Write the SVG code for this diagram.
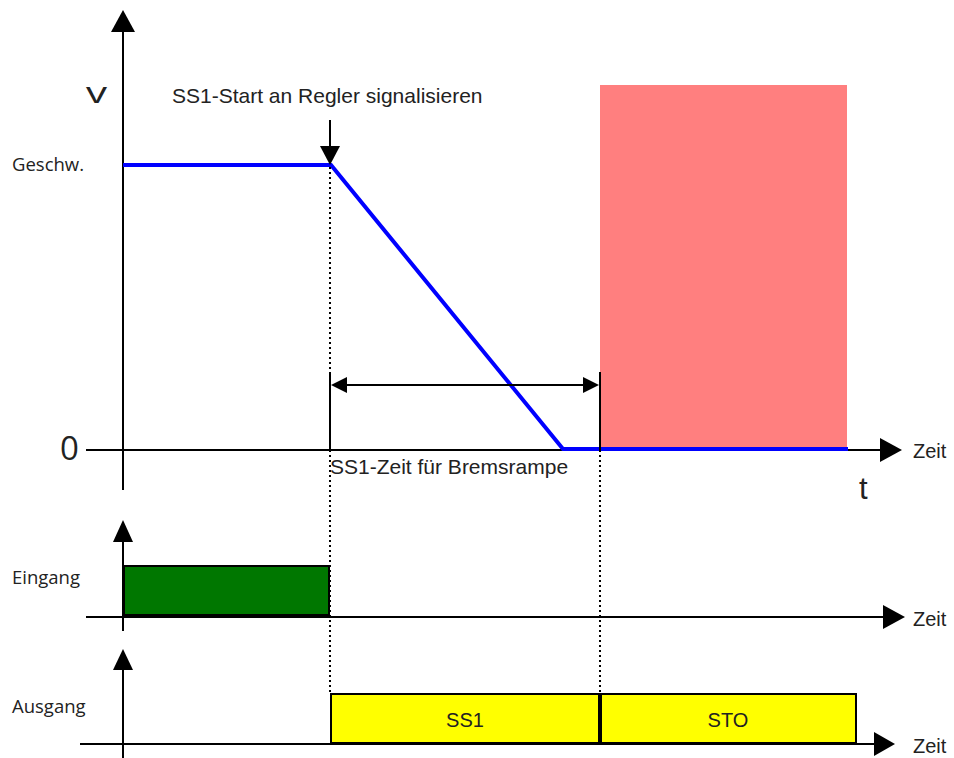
<svg xmlns="http://www.w3.org/2000/svg" width="954" height="758" viewBox="0 0 954 758">
<style>
.ax{stroke:#000;stroke-width:2;fill:none}
.dot{stroke:#000;stroke-width:2;stroke-dasharray:2 3;fill:none}
.sp{stroke:#0000FF;stroke-width:4;fill:none;stroke-linejoin:miter}
.head{fill:#000}
.t{font-family:"Liberation Sans",Arial,sans-serif;fill:#222;font-size:20px}
.lbl{font-family:"Open Sans","Noto Sans",sans-serif;fill:#222;font-size:18.5px}
</style>
<rect width="954" height="758" fill="#fff"/>
<g id="stoZone"><rect x="600" y="85" width="247" height="363" fill="#FF7F7F"/></g>
<g id="connectors">
<line class="ax" x1="123" y1="28" x2="123" y2="490"/>
<polygon class="head" points="123,10 111,32 135,32"/>
<line class="ax" x1="86" y1="450" x2="884" y2="450"/>
<polygon class="head" points="902,450 880,438 880,462"/>
<polyline class="sp" points="123,165 331,165 563,449 848,449"/>
<line class="ax" x1="330" y1="120" x2="330" y2="150"/>
<polygon class="head" points="330,165 320,146 340,146"/>
<line class="ax" x1="345" y1="385" x2="585" y2="385"/>
<polygon class="head" points="331,385 347,377 347,393"/>
<polygon class="head" points="599,385 583,377 583,393"/>
<line class="ax" x1="330" y1="372" x2="330" y2="450"/>
<line class="ax" x1="600" y1="372" x2="600" y2="450"/>
<line class="dot" x1="330" y1="167" x2="330" y2="372"/>
<line class="dot" x1="330" y1="450" x2="330" y2="694"/>
<line class="dot" x1="600" y1="450" x2="600" y2="694"/>
<line class="ax" x1="123" y1="538" x2="123" y2="631"/>
<polygon class="head" points="123,520 113,542 133,542"/>
<line class="ax" x1="86" y1="617" x2="886" y2="617"/>
<polygon class="head" points="905,617 883,605 883,629"/>
<line class="ax" x1="123" y1="666" x2="123" y2="758"/>
<polygon class="head" points="123,649 113,670 133,670"/>
<line class="ax" x1="80" y1="744" x2="877" y2="744"/>
<polygon class="head" points="895,744 874,732 874,756"/>
</g>
<g id="eingang"><rect x="124" y="566" width="205" height="49" fill="#007700" stroke="#000" stroke-width="2"/></g>
<g id="ss1"><rect x="331" y="694" width="269" height="49" fill="#FFFF00" stroke="#000" stroke-width="2"/>
<text class="t" x="465" y="727" text-anchor="middle">SS1</text></g>
<g id="sto"><rect x="600" y="694" width="256" height="49" fill="#FFFF00" stroke="#000" stroke-width="2"/>
<line x1="600" y1="694" x2="600" y2="743" stroke="#000" stroke-width="4"/>
<text class="t" x="728" y="727" text-anchor="middle">STO</text></g>
<g id="labels">
<text class="lbl" x="86" y="103" style="font-size:30px" textLength="21" lengthAdjust="spacingAndGlyphs">v</text>
<text class="t" x="172" y="103" style="font-size:21px">SS1-Start an Regler signalisieren</text>
<text class="lbl" x="12" y="171">Geschw.</text>
<text class="lbl" x="60" y="460" style="font-size:33px">0</text>
<text class="t" x="913" y="458">Zeit</text>
<text class="t" x="859" y="499" style="font-size:31px">t</text>
<text class="t" x="330" y="474" style="font-size:21px">SS1-Zeit für Bremsrampe</text>
<text class="lbl" x="12" y="584">Eingang</text>
<text class="t" x="913" y="626">Zeit</text>
<text class="lbl" x="12" y="713">Ausgang</text>
<text class="t" x="913" y="753">Zeit</text>
</g>
</svg>
